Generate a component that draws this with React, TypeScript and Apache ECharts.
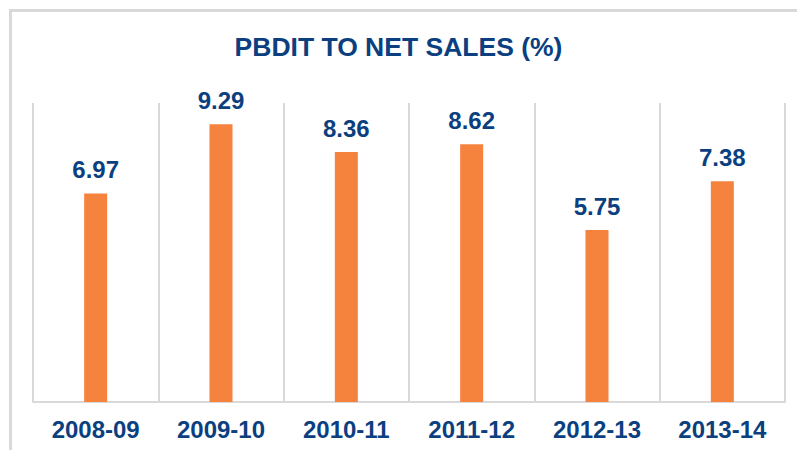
import React, { useEffect, useRef } from "react";
import * as echarts from "echarts";

const categories = ["2008-09", "2009-10", "2010-11", "2011-12", "2012-13", "2013-14"];
const values = [6.97, 9.29, 8.36, 8.62, 5.75, 7.38];
const titleText = "PBDIT TO NET SALES (%)";

export default function App() {
  const ref = useRef<HTMLDivElement>(null);
  useEffect(() => {
    if (!ref.current) return;
    const chart = echarts.init(ref.current, null, { renderer: "svg" });
    const blue = "#0b3f7f";
    const grey = "#d9d9d9";
    const font = "'Liberation Sans', Arial, sans-serif";
    chart.setOption({
      animation: false,
      backgroundColor: "#ffffff",
      title: {
        text: titleText,
        left: "center",
        top: 28,
        textStyle: {
          color: blue,
          fontSize: 26.5,
          fontWeight: "bold",
          fontFamily: font,
        },
      },
      graphic: [
        {
          type: "rect",
          shape: { x: 10.5, y: 10.5, width: 820, height: 470 },
          style: { fill: "none", stroke: grey, lineWidth: 3 },
          silent: true,
        },
      ],
      grid: { left: 33, right: 12, top: 103, bottom: 48 },
      xAxis: {
        type: "category",
        data: categories,
        axisLine: { show: true, lineStyle: { color: grey, width: 2 } },
        axisTick: { show: false },
        splitLine: { show: true, lineStyle: { color: grey, width: 2 } },
        axisLabel: {
          color: blue,
          fontSize: 24,
          fontWeight: "bold",
          fontFamily: font,
          margin: 15,
        },
      },
      yAxis: {
        type: "value",
        min: 0,
        max: 10,
        show: false,
        splitLine: { show: false },
      },
      series: [
        {
          type: "bar",
          data: values,
          barWidth: 23,
          itemStyle: { color: "#f5823d" },
          label: {
            show: true,
            position: "top",
            distance: 12,
            color: blue,
            fontSize: 24,
            fontWeight: "bold",
            fontFamily: font,
            formatter: (p: any) => p.value.toFixed(2),
          },
        },
      ],
    });
    return () => chart.dispose();
  }, []);
  return (
    <div
      ref={ref}
      style={{ position: "absolute", left: 0, top: 0, width: 797, height: 450 }}
    />
  );
}
